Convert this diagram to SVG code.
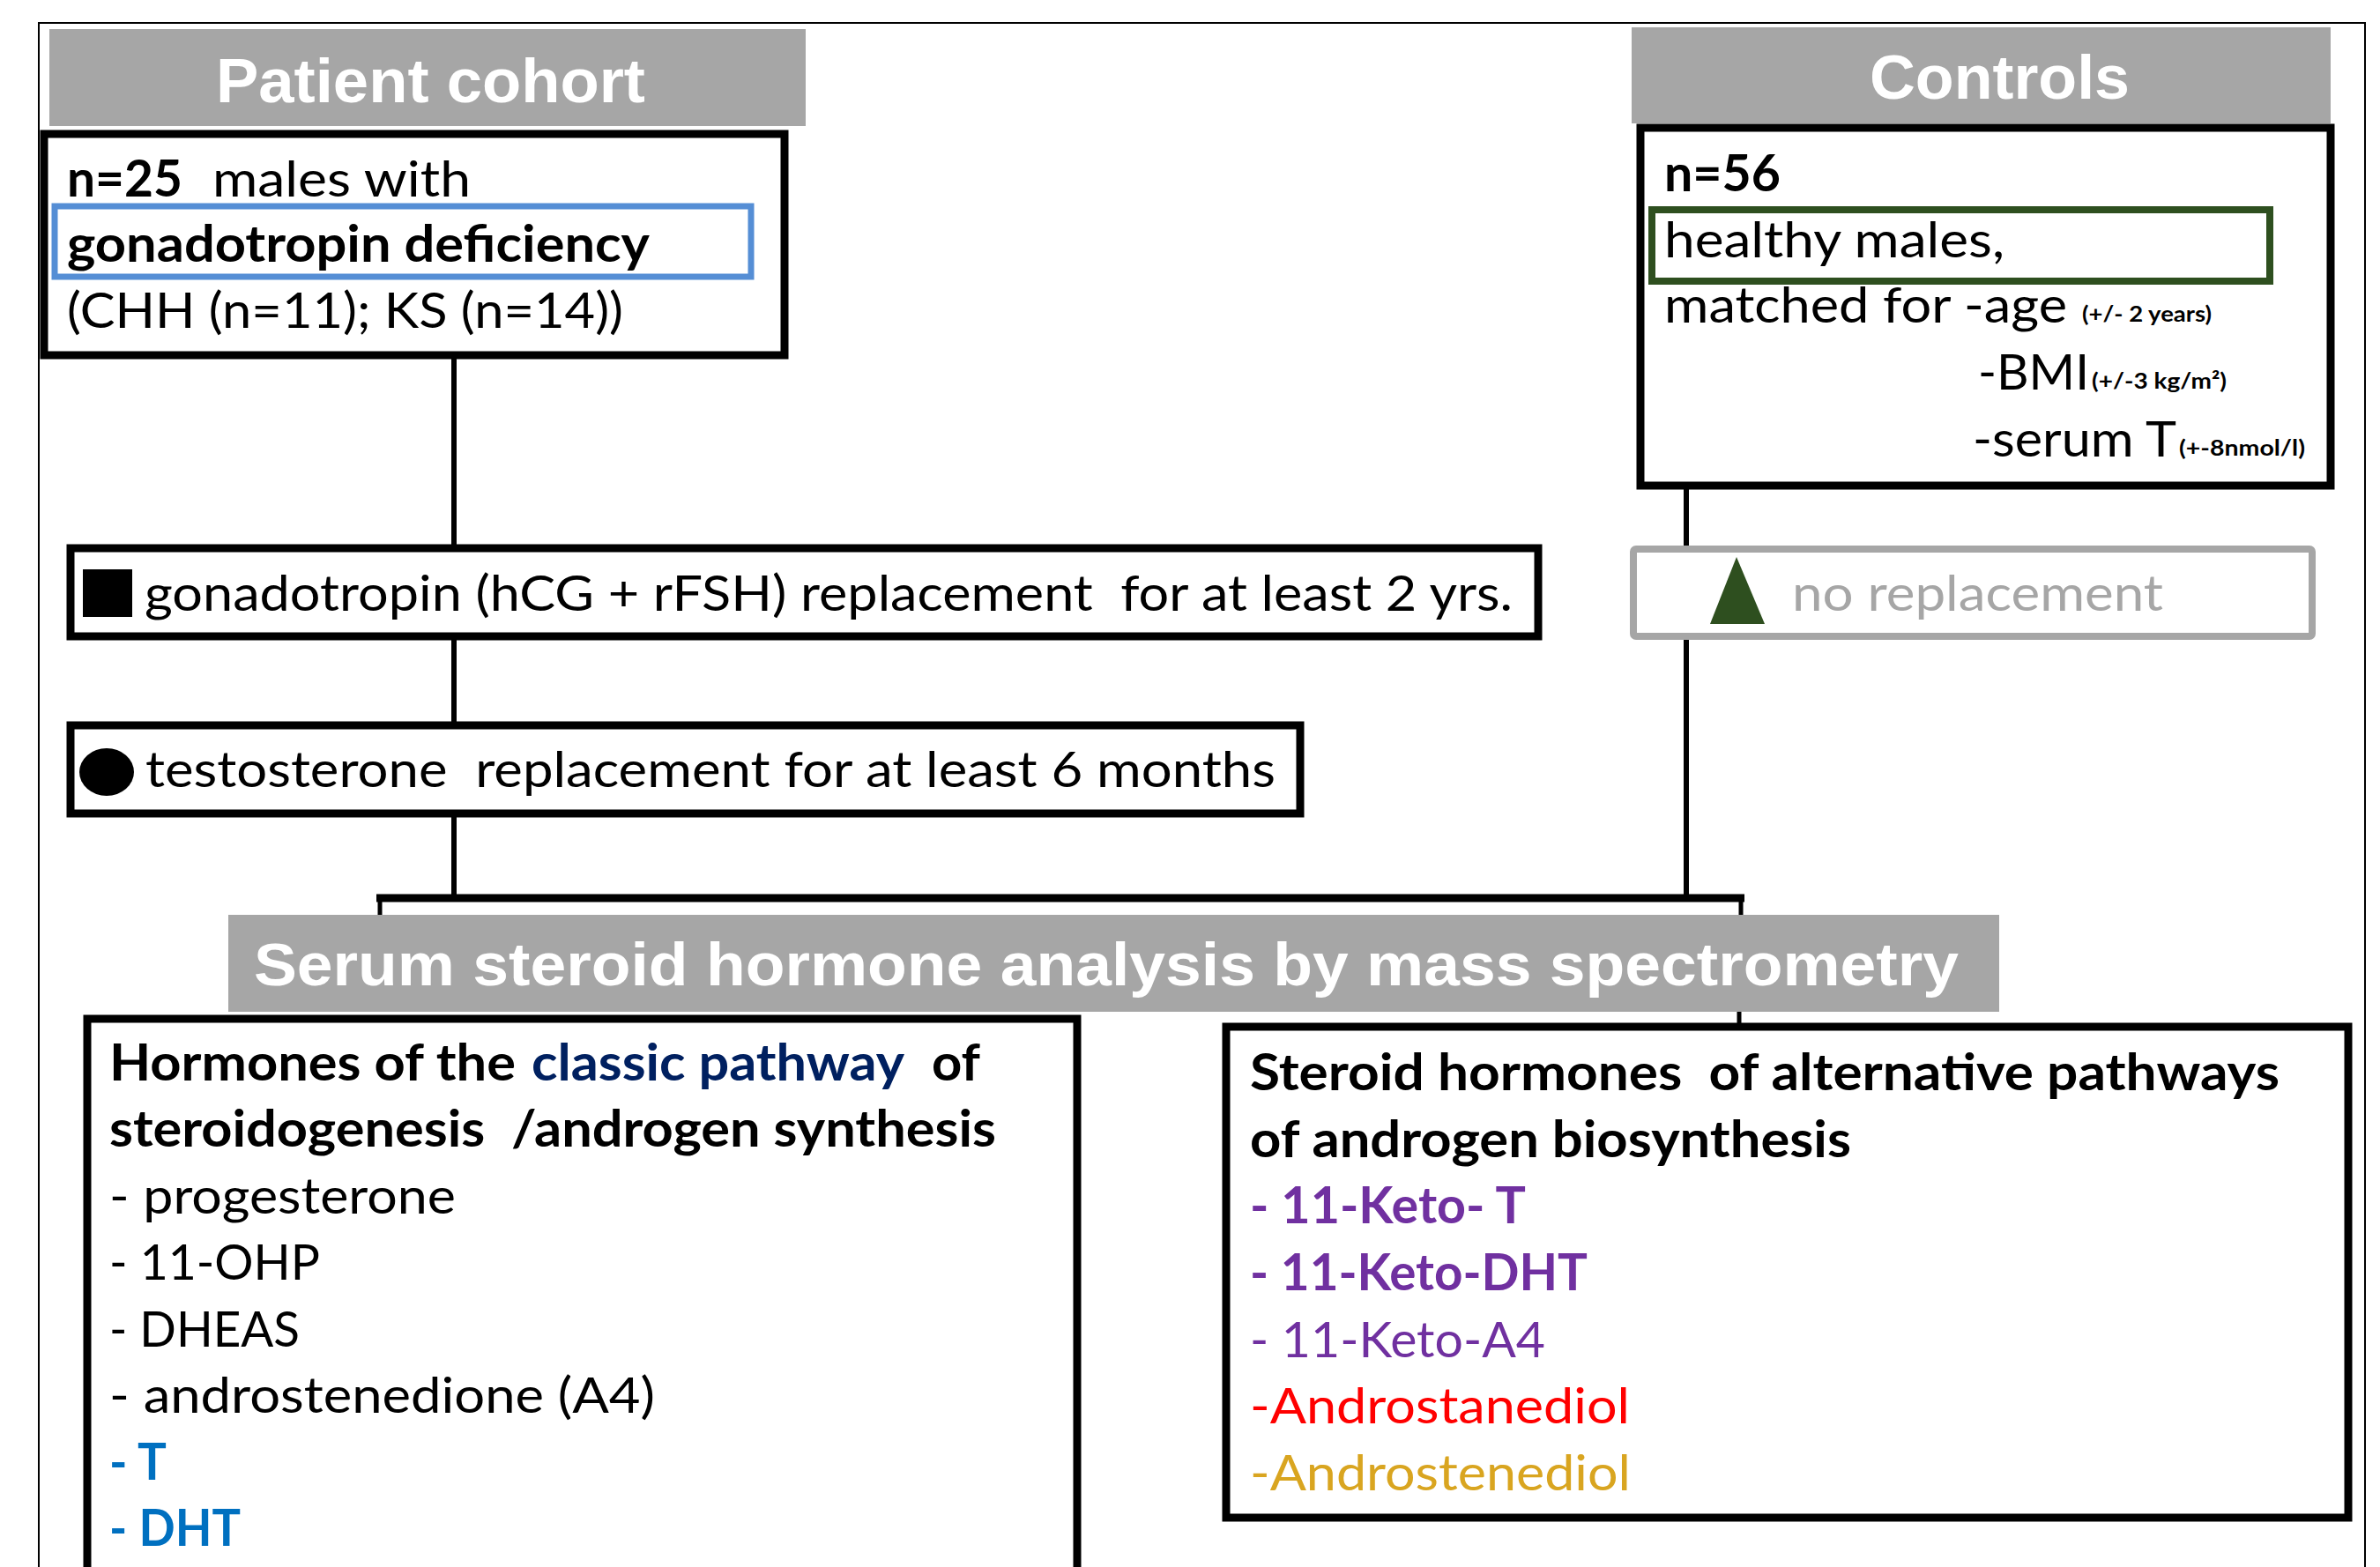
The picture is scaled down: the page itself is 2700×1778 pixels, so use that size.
<svg xmlns="http://www.w3.org/2000/svg" width="2700" height="1778" viewBox="0 0 2700 1778">
<style>
.hdr{fill:#A6A6A6}
.hdrt{font-family:"Liberation Sans",Arial,sans-serif;font-weight:bold;fill:#fff}
.box{fill:#fff;stroke:#000;stroke-width:9}
.t{font-family:Lato,"Open Sans",sans-serif;font-size:57px;fill:#000}
.b{font-weight:bold}
.s{font-family:Lato,"Open Sans",sans-serif;font-size:24px;font-weight:bold;fill:#000}
.ln{stroke:#000;stroke-width:6;fill:none}
</style>
<rect x="0" y="0" width="2700" height="1778" fill="#fff"/>
<rect id="frame" x="44" y="26" width="2639" height="1800" fill="none" stroke="#000" stroke-width="2"/>

<g id="connectors">
  <line class="ln" x1="515" y1="403" x2="515" y2="622"/>
  <line class="ln" x1="515" y1="722" x2="515" y2="823"/>
  <line class="ln" x1="515" y1="923" x2="515" y2="1019"/>
  <line class="ln" x1="1913" y1="551" x2="1913" y2="1019"/>
  <line x1="427" y1="1019" x2="1979" y2="1019" stroke="#000" stroke-width="9"/>
  <line x1="431" y1="1019" x2="431" y2="1040" stroke="#000" stroke-width="5"/>
  <line x1="1975" y1="1019" x2="1975" y2="1040" stroke="#000" stroke-width="5"/>
  <line x1="1973" y1="1146" x2="1973" y2="1162" stroke="#000" stroke-width="5"/>
</g>

<g id="patient-header">
  <rect class="hdr" x="56" y="33" width="858" height="110"/>
  <text class="hdrt" x="245" y="116" font-size="70" textLength="487" lengthAdjust="spacingAndGlyphs">Patient cohort</text>
</g>

<g id="patient-box">
  <rect class="box" x="50" y="152" width="840" height="251"/>
  <rect x="62" y="234" width="790" height="80" fill="none" stroke="#558ED5" stroke-width="7"/>
  <text class="t b" x="76" y="223" textLength="131" lengthAdjust="spacingAndGlyphs">n=25</text>
  <text class="t" x="241" y="223" textLength="293" lengthAdjust="spacingAndGlyphs">males with</text>
  <text class="t b" x="76" y="297" textLength="661" lengthAdjust="spacingAndGlyphs">gonadotropin deficiency</text>
  <text class="t" x="76" y="372" textLength="631" lengthAdjust="spacingAndGlyphs">(CHH (n=11); KS (n=14))</text>
</g>

<g id="controls-header">
  <rect class="hdr" x="1851" y="31" width="793" height="109"/>
  <text class="hdrt" x="2121" y="112" font-size="70" textLength="295" lengthAdjust="spacingAndGlyphs">Controls</text>
</g>

<g id="controls-box">
  <rect class="box" x="1861" y="145" width="783" height="406"/>
  <rect x="1874" y="238" width="701" height="81" fill="none" stroke="#2E4F1F" stroke-width="8"/>
  <text class="t b" x="1888" y="217" textLength="132" lengthAdjust="spacingAndGlyphs">n=56</text>
  <text class="t" x="1888" y="292" textLength="386" lengthAdjust="spacingAndGlyphs">healthy males,</text>
  <text class="t" x="1888" y="366" textLength="457" lengthAdjust="spacingAndGlyphs">matched for -age</text>
  <text class="s" x="2362" y="365" textLength="147" lengthAdjust="spacingAndGlyphs">(+/- 2 years)</text>
  <text class="t" x="2244" y="442" textLength="126" lengthAdjust="spacingAndGlyphs">-BMI</text>
  <text class="s" x="2373" y="441" textLength="153" lengthAdjust="spacingAndGlyphs">(+/-3 kg/m²)</text>
  <text class="t" x="2238" y="518" textLength="231" lengthAdjust="spacingAndGlyphs">-serum T</text>
  <text class="s" x="2472" y="517" textLength="143" lengthAdjust="spacingAndGlyphs">(+-8nmol/l)</text>
</g>

<g id="gonadotropin-box">
  <rect class="box" x="80" y="622" width="1665" height="100"/>
  <rect x="94" y="646" width="56" height="54" fill="#000"/>
  <text class="t" x="164" y="693" xml:space="preserve" textLength="1552" lengthAdjust="spacingAndGlyphs">gonadotropin (hCG + rFSH) replacement  for at least 2 yrs.</text>
</g>

<g id="testosterone-box">
  <rect class="box" x="80" y="823" width="1395" height="100"/>
  <ellipse cx="121" cy="876" rx="31" ry="27" fill="#000"/>
  <text class="t" x="165" y="893" xml:space="preserve" textLength="1282" lengthAdjust="spacingAndGlyphs">testosterone  replacement for at least 6 months</text>
</g>

<g id="no-replacement-box">
  <rect x="1853" y="623" width="770" height="99" rx="3" fill="#fff" stroke="#A6A6A6" stroke-width="8"/>
  <polygon points="1970,632 1940,708 2002,708" fill="#2E4F1F"/>
  <text class="t" x="2033" y="693" style="fill:#A6A6A6" textLength="421" lengthAdjust="spacingAndGlyphs">no replacement</text>
</g>

<g id="analysis-banner">
  <rect class="hdr" x="259" y="1038" width="2009" height="110"/>
  <text class="hdrt" x="288" y="1118" font-size="68" textLength="1934" lengthAdjust="spacingAndGlyphs">Serum steroid hormone analysis by mass spectrometry</text>
</g>

<g id="classic-box">
  <rect class="box" x="99" y="1156" width="1123" height="700"/>
  <text class="t b" x="124" y="1226" textLength="461" lengthAdjust="spacingAndGlyphs">Hormones of the</text>
  <text class="t b" x="603" y="1226" style="fill:#002060" textLength="423" lengthAdjust="spacingAndGlyphs">classic pathway</text>
  <text class="t b" x="1057" y="1226" textLength="55" lengthAdjust="spacingAndGlyphs">of</text>
  <text class="t b" x="124" y="1301" xml:space="preserve" textLength="1006" lengthAdjust="spacingAndGlyphs">steroidogenesis  /androgen synthesis</text>
  <text class="t" x="124" y="1377" textLength="393" lengthAdjust="spacingAndGlyphs">- progesterone</text>
  <text class="t" x="124" y="1452" textLength="239" lengthAdjust="spacingAndGlyphs">- 11-OHP</text>
  <text class="t" x="124" y="1528" textLength="216" lengthAdjust="spacingAndGlyphs">- DHEAS</text>
  <text class="t" x="124" y="1603" textLength="619" lengthAdjust="spacingAndGlyphs">- androstenedione (A4)</text>
  <text class="t b" x="124" y="1679" style="fill:#0070C0" textLength="65" lengthAdjust="spacingAndGlyphs">- T</text>
  <text class="t b" x="124" y="1754" style="fill:#0070C0" textLength="149" lengthAdjust="spacingAndGlyphs">- DHT</text>
</g>

<g id="alternative-box">
  <rect class="box" x="1391" y="1165" width="1273" height="557"/>
  <text class="t b" x="1418" y="1237" xml:space="preserve" textLength="1168" lengthAdjust="spacingAndGlyphs">Steroid hormones  of alternative pathways</text>
  <text class="t b" x="1418" y="1313" textLength="682" lengthAdjust="spacingAndGlyphs">of androgen biosynthesis</text>
  <text class="t b" x="1418" y="1388" style="fill:#7030A0" textLength="313" lengthAdjust="spacingAndGlyphs">- 11-Keto- T</text>
  <text class="t b" x="1418" y="1464" style="fill:#7030A0" textLength="383" lengthAdjust="spacingAndGlyphs">- 11-Keto-DHT</text>
  <text class="t" x="1418" y="1540" style="fill:#7030A0" textLength="335" lengthAdjust="spacingAndGlyphs">- 11-Keto-A4</text>
  <text class="t" x="1418" y="1615" style="fill:#FF0000" textLength="431" lengthAdjust="spacingAndGlyphs">-Androstanediol</text>
  <text class="t" x="1418" y="1691" style="fill:#D9A520" textLength="432" lengthAdjust="spacingAndGlyphs">-Androstenediol</text>
</g>
</svg>
